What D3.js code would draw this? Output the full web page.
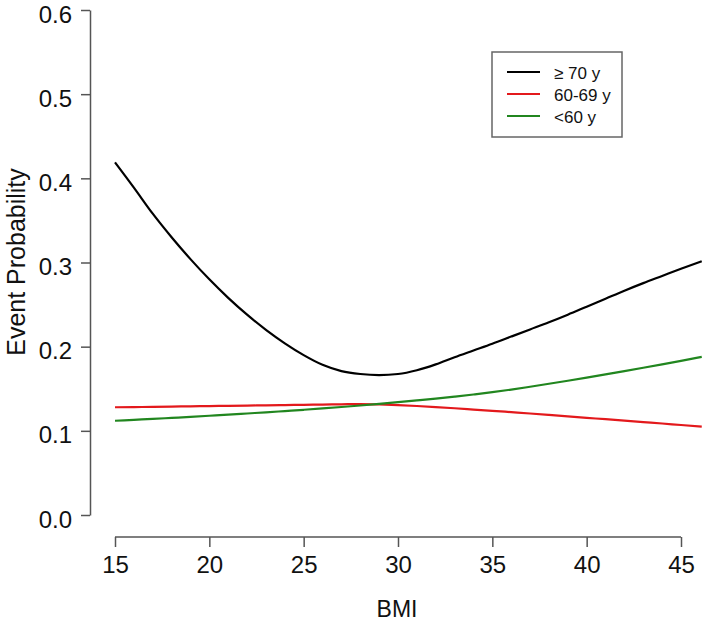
<!DOCTYPE html>
<html>
<head>
<meta charset="utf-8">
<script src="https://cdn.jsdelivr.net/npm/d3@7"></script>
<style>
  body { margin: 0; background: #fff; }
  text { font-family: "Liberation Sans", Arial, sans-serif; fill: #111; }
</style>
</head>
<body>
<svg id="chart" width="704" height="624"></svg>
<script>
// ---- data ----
const bmi = [15, 16, 17, 18, 19, 20, 21, 22, 23, 24, 25, 26, 27, 28, 29, 30, 31, 32, 33, 34, 35, 36, 37, 38, 39, 40, 41, 42, 43, 44, 45, 46.1];
const age70plus = [0.419, 0.389, 0.358, 0.330, 0.304, 0.280, 0.258, 0.238, 0.220, 0.204, 0.190, 0.1785, 0.1710, 0.1675, 0.1662, 0.1675, 0.1720, 0.1790, 0.1875, 0.1955, 0.2035, 0.2120, 0.2205, 0.2290, 0.2380, 0.2475, 0.2570, 0.2665, 0.2755, 0.2840, 0.2925, 0.3015];
const age60to69 = [0.1280, 0.1282, 0.1285, 0.1288, 0.1291, 0.1294, 0.1297, 0.1300, 0.1303, 0.1306, 0.1309, 0.1312, 0.1315, 0.1318, 0.1314, 0.1306, 0.1295, 0.1282, 0.1268, 0.1253, 0.1238, 0.1222, 0.1206, 0.1189, 0.1172, 0.1155, 0.1138, 0.1121, 0.1104, 0.1087, 0.1069, 0.1050];
const ageUnder60 = [0.1120, 0.1131, 0.1142, 0.1154, 0.1166, 0.1179, 0.1192, 0.1206, 0.1220, 0.1235, 0.1250, 0.1266, 0.1283, 0.1301, 0.1320, 0.1340, 0.1361, 0.1383, 0.1407, 0.1432, 0.1459, 0.1490, 0.1524, 0.1559, 0.1595, 0.1632, 0.1670, 0.1709, 0.1749, 0.1790, 0.1832, 0.1879];
const seriesNames = ["\u2265 70 y", "60-69 y", "<60 y"];
const seriesColors = ["#000000", "#e3191c", "#21861f"];
const xTicks = [15, 20, 25, 30, 35, 40, 45];
const yTicks = [0.0, 0.1, 0.2, 0.3, 0.4, 0.5, 0.6];
const xTitle = "BMI";
const yTitle = "Event Probability";

// ---- chart ----
const svg = d3.select("#chart");
const x = d3.scaleLinear().domain([15, 45]).range([115, 681]);
const y = d3.scaleLinear().domain([0, 0.6]).range([515, 10]);
const axisColor = "#555";
const fontFam = "'Liberation Sans', Arial, sans-serif";

// y axis
const gy = svg.append("g").attr("transform", "translate(90,0)")
  .call(d3.axisLeft(y).tickValues(yTicks).tickFormat(d3.format(".1f")).tickSize(9).tickSizeOuter(0).tickPadding(9));
gy.select(".domain").attr("stroke", axisColor).attr("stroke-width", 1.5);
gy.selectAll(".tick line").attr("stroke", axisColor).attr("stroke-width", 1.5);
gy.selectAll(".tick text").attr("font-size", 24).attr("dy", "0.5em").style("font-family", fontFam).attr("fill", "#111");

// x axis
const gx = svg.append("g").attr("transform", "translate(0,537)")
  .call(d3.axisBottom(x).tickValues(xTicks).tickFormat(d3.format("d")).tickSize(10).tickSizeOuter(0).tickPadding(9));
gx.select(".domain").remove();
gx.append("line").attr("x1", x(xTicks[0])).attr("x2", x(xTicks[xTicks.length - 1]))
  .attr("y1", 0).attr("y2", 0).attr("stroke", axisColor).attr("stroke-width", 1.5);
gx.selectAll(".tick line").attr("stroke", axisColor).attr("stroke-width", 1.5);
gx.selectAll(".tick text").attr("font-size", 24).style("font-family", fontFam).attr("fill", "#111");

// titles
svg.append("text").attr("x", 397).attr("y", 617).attr("text-anchor", "middle").attr("font-size", 23).text(xTitle);
svg.append("text").attr("transform", "translate(25,262) rotate(-90)").attr("text-anchor", "middle").attr("font-size", 25).text(yTitle);

// lines
const allSeries = [age70plus, age60to69, ageUnder60];
const line = d3.line().x((d, i) => x(bmi[i])).y(d => y(d)).curve(d3.curveMonotoneX);
allSeries.forEach((vals, k) => {
  svg.append("path").datum(vals).attr("d", line)
    .attr("fill", "none").attr("stroke", seriesColors[k]).attr("stroke-width", 2.2);
});

// legend
const lg = svg.append("g");
lg.append("rect").attr("x", 492).attr("y", 52).attr("width", 130).attr("height", 85)
  .attr("fill", "#fff").attr("stroke", "#666").attr("stroke-width", 1.5);
seriesNames.forEach((name, k) => {
  const yy = 72 + k * 22;
  lg.append("line").attr("x1", 507).attr("x2", 540).attr("y1", yy).attr("y2", yy)
    .attr("stroke", seriesColors[k]).attr("stroke-width", 2);
  lg.append("text").attr("x", 554).attr("y", yy + 1).attr("dy", "0.35em").attr("font-size", 17).text(name);
});
</script>
</body>
</html>
